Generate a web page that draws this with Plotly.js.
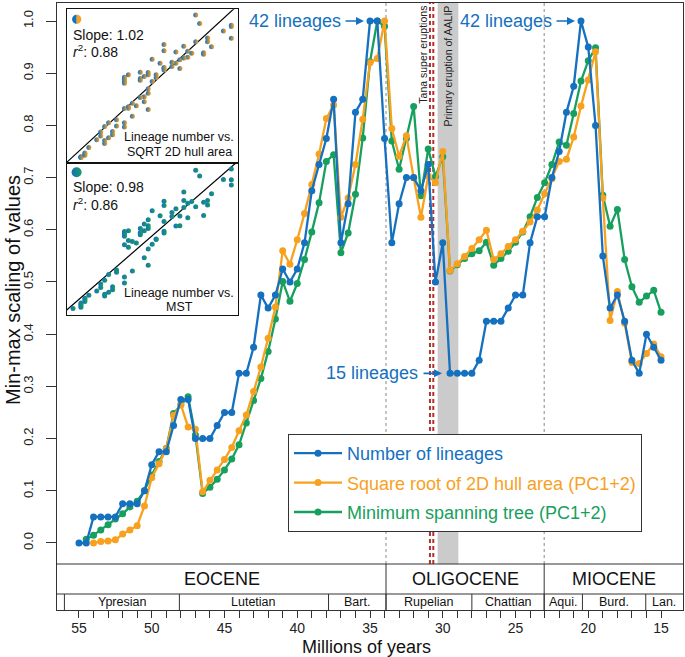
<!DOCTYPE html>
<html>
<head>
<meta charset="utf-8">
<script src="https://cdn.plot.ly/plotly-3.0.1.min.js"></script>
<style>html,body{margin:0;padding:0;background:#fff}#chart{width:685px;height:657px}</style>
</head>
<body>
<div id="chart"></div>
<script>
// ---------------- DATA ----------------
const ages = [55,54.5,54,53.5,53,52.5,52,51.5,51,50.5,50,49.5,49,48.5,48,47.5,47,46.5,46,45.5,45,44.5,44,43.5,43,42.5,42,41.5,41,40.5,40,39.5,39,38.5,38,37.5,37,36.5,36,35.5,35,34.5,34,33.5,33,32.5,32,31.5,31,30.5,30,29.5,29,28.5,28,27.5,27,26.5,26,25.5,25,24.5,24,23.5,23,22.5,22,21.5,21,20.5,20,19.5,19,18.5,18,17.5,17,16.5,16,15.5,15];

const lineages = [0,0,0.05,0.05,0.05,0.05,0.075,0.075,0.075,0.1,0.15,0.175,0.175,0.225,0.275,0.275,0.2,0.2,0.2,0.225,0.25,0.25,0.325,0.325,0.375,0.475,0.45,0.475,0.525,0.5,0.525,0.575,0.675,0.725,0.775,0.85,0.575,0.65,0.825,0.85,1,1,0.775,0.575,0.65,0.7,0.7,0.675,0.725,0.5,0.575,0.325,0.325,0.325,0.325,0.35,0.425,0.425,0.425,0.45,0.475,0.475,0.575,0.625,0.625,0.7,0.75,0.825,0.875,1,0.95,0.8,0.55,0.45,0.475,0.425,0.35,0.325,0.4,0.375,0.35];

const hullArea = [null,null,0,0.003,0.004,0.006,0.017,0.025,0.033,0.071,0.125,0.152,0.18,0.244,0.265,0.222,0.218,0.098,0.12,0.14,0.16,0.183,0.215,0.245,0.29,0.337,0.392,0.452,0.56,0.534,0.581,0.631,0.687,0.745,0.813,0.839,0.624,0.661,0.725,0.812,0.92,0.928,1,0.794,0.741,0.78,0.7,0.624,0.703,0.69,0.75,0.522,0.535,0.549,0.564,0.581,0.599,0.543,0.554,0.568,0.581,0.597,0.615,0.638,0.669,0.698,0.731,0.735,0.778,0.837,0.887,0.941,0.661,0.426,0.482,0.421,0.346,0.344,0.363,0.381,0.357];

const mst = [null,0.007,0.015,0.025,0.035,0.046,0.056,0.069,0.08,0.1,0.13,0.156,0.181,0.248,0.265,0.28,0.207,0.095,0.107,0.122,0.14,0.161,0.188,0.23,0.273,0.315,0.367,0.429,0.501,0.463,0.497,0.543,0.596,0.652,0.731,0.744,0.556,0.594,0.668,0.776,0.922,1,0.99,0.77,0.716,0.775,0.836,0.665,0.755,0.702,0.74,0.521,0.533,0.545,0.554,0.56,0.576,0.532,0.545,0.559,0.576,0.596,0.625,0.662,0.69,0.725,0.768,0.762,0.823,0.885,0.924,0.949,0.666,0.607,0.639,0.543,0.491,0.461,0.473,0.484,0.442];

const seriesNames = ['Number of lineages','Square root of 2D hull area (PC1+2)','Minimum spanning tree (PC1+2)'];

const xTickVals = [55,54,53,52,51,50,49,48,47,46,45,44,43,42,41,40,39,38,37,36,35,34,33,32,31,30,29,28,27,26,25,24,23,22,21,20,19,18,17,16,15];
const xTickLabels = ['55','','','','','50','','','','','45','','','','','40','','','','','35','','','','','30','','','','','25','','','','','20','','','','','15'];
const yTickVals = [0,0.1,0.2,0.3,0.4,0.5,0.6,0.7,0.8,0.9,1.0];
const yTickLabels = ['0.0','0.1','0.2','0.3','0.4','0.5','0.6','0.7','0.8','0.9','1.0'];

const epochNames = ['EOCENE','OLIGOCENE','MIOCENE'];
const epochBounds = [56.51,33.9,23.03,13.49];
const stageNames = ['Ypresian','Lutetian','Bart.','Rupelian','Chattian','Aqui.','Burd.','Lan.'];
const stageBounds = [56.0,48.1,37.85,33.9,28.0,23.03,20.4,16.05,13.49];

const insetSlopes = [1.02, 0.98];
const insetR2 = ['0.88', '0.86'];
const insetCaption = [['Lineage number vs.','SQRT 2D hull area'],['Lineage number vs.','MST']];

// ---------------- STYLE ----------------
const FONT = 'Liberation Sans, Arial, Helvetica, sans-serif';
const C_BLUE = '#1570bf', C_ORANGE = '#f8a11f', C_GREEN = '#17a05d';
const FRAME = '#333333';
const W = 685, H = 657, ML = 57, MR = 2, MT = 3, MB = 47;
const PW = W - ML - MR, PH = H - MT - MB;
const pxX = px => (px - ML) / PW;
const pxY = py => (H - MB - py) / PH;
const XR = [56.51, 13.49];
const YR = [-0.1284, 1.0345];
const IR = [-0.04, 1.04];

// ---------------- TRACES ----------------
function series(y, name, color, rank) {
  return {
    x: ages, y: y, type: 'scatter', mode: 'lines+markers',
    name: '<span style="color:' + color + '">' + name + '</span>',
    line: {color: color, width: 2.3}, marker: {color: color, size: 7},
    legendrank: rank, legendgroup: 'g' + rank, cliponaxis: false,
    xaxis: 'x', yaxis: 'y'
  };
}
const traces = [
  series(mst, seriesNames[2], C_GREEN, 3),
  series(hullArea, seriesNames[1], C_ORANGE, 2),
  series(lineages, seriesNames[0], C_BLUE, 1)
];

function pairs(a, b) {
  const xs = [], ys = [];
  a.forEach((v, i) => { if (v != null && b[i] != null) { xs.push(v); ys.push(b[i]); } });
  return {xs, ys};
}
const mean = arr => arr.reduce((s, v) => s + v, 0) / arr.length;
const insetPairs = [pairs(lineages, hullArea), pairs(lineages, mst)];
const insetColors = [C_ORANGE, C_GREEN];
insetPairs.forEach((p, k) => {
  const ax = k === 0 ? '2' : '3';
  const mx = mean(p.xs), my = mean(p.ys), b = insetSlopes[k];
  traces.push({
    x: IR, y: IR.map(x => my + b * (x - mx)), type: 'scatter', mode: 'lines',
    line: {color: '#000', width: 1.2}, showlegend: false, hoverinfo: 'skip',
    xaxis: 'x' + ax, yaxis: 'y' + ax
  });
  traces.push({
    x: p.xs, y: p.ys, type: 'scatter', mode: 'markers', showlegend: false,
    marker: {size: 5, color: C_BLUE, gradient: {type: 'horizontal', color: insetColors[k]}},
    xaxis: 'x' + ax, yaxis: 'y' + ax
  });
});
// gradient icon for second inset
traces.push({
  x: [IR[0] + 0.058 * (IR[1] - IR[0])], y: [IR[1] - 0.059 * (IR[1] - IR[0])],
  type: 'scatter', mode: 'markers', showlegend: false, hoverinfo: 'skip',
  marker: {size: 10, color: C_BLUE, gradient: {type: 'horizontal', color: C_GREEN}},
  xaxis: 'x3', yaxis: 'y3'
});

// ---------------- SHAPES ----------------
const yPlotBottom = pxY(564), yEpochBottom = pxY(594);
const shapes = [];
shapes.push({type: 'rect', xref: 'x', yref: 'paper', x0: 30.35, x1: 28.93, y0: yPlotBottom, y1: 1, fillcolor: '#cbcbcb', line: {width: 0}, layer: 'below'});
[30.88, 30.65].forEach(t => shapes.push({type: 'line', xref: 'x', yref: 'paper', x0: t, x1: t, y0: yPlotBottom, y1: 1, line: {color: '#b3322e', width: 2, dash: '4px,3px'}, layer: 'below'}));
[epochBounds[1], epochBounds[2]].forEach(t => shapes.push({type: 'line', xref: 'x', yref: 'paper', x0: t, x1: t, y0: yPlotBottom, y1: 1, line: {color: '#888', width: 1, dash: 'dot'}, layer: 'below'}));
shapes.push({type: 'line', xref: 'paper', yref: 'paper', x0: 0, x1: 1, y0: yPlotBottom, y1: yPlotBottom, line: {color: FRAME, width: 1}});
shapes.push({type: 'line', xref: 'paper', yref: 'paper', x0: 0, x1: 1, y0: yEpochBottom, y1: yEpochBottom, line: {color: FRAME, width: 1}});
[epochBounds[1], epochBounds[2]].forEach(t => shapes.push({type: 'line', xref: 'x', yref: 'paper', x0: t, x1: t, y0: 0, y1: yPlotBottom, line: {color: FRAME, width: 1}}));
stageBounds.slice(0, -1).forEach(t => shapes.push({type: 'line', xref: 'x', yref: 'paper', x0: t, x1: t, y0: 0, y1: yEpochBottom, line: {color: FRAME, width: 1}}));
// half blue / half orange icon in first inset
function halfCircle(cx, cy, rx, ry, s) {
  const k = 0.5523;
  return 'M' + cx + ',' + (cy + ry) + ' C' + (cx + s * k * rx) + ',' + (cy + ry) + ' ' + (cx + s * rx) + ',' + (cy + k * ry) + ' ' + (cx + s * rx) + ',' + cy +
    ' C' + (cx + s * rx) + ',' + (cy - k * ry) + ' ' + (cx + s * k * rx) + ',' + (cy - ry) + ' ' + cx + ',' + (cy - ry) + ' Z';
}
const icx = pxX(76.7), icy = pxY(19.3), irx = 4.6 / PW, iry = 4.6 / PH;
shapes.push({type: 'path', xref: 'paper', yref: 'paper', path: halfCircle(icx, icy, irx, iry, -1), fillcolor: C_BLUE, line: {width: 0}});
shapes.push({type: 'path', xref: 'paper', yref: 'paper', path: halfCircle(icx, icy, irx, iry, 1), fillcolor: C_ORANGE, line: {width: 0}});

// ---------------- ANNOTATIONS ----------------
const ann = [];
const txt = (o) => Object.assign({showarrow: false, xanchor: 'center', yanchor: 'middle', font: {family: FONT, size: 13, color: '#111'}}, o);
ann.push(txt({text: 'Min-max scaling of values', xref: 'paper', yref: 'paper', x: pxX(13), y: pxY(290), textangle: -90, font: {family: FONT, size: 20, color: '#111'}}));
ann.push(txt({text: 'Millions of years', xref: 'paper', yref: 'paper', x: pxX(366.5), y: pxY(647), font: {family: FONT, size: 18, color: '#111'}}));
epochNames.forEach((n, i) => ann.push(txt({text: n, xref: 'x', yref: 'paper', x: (epochBounds[i] + epochBounds[i + 1]) / 2, y: pxY(579), font: {family: FONT, size: 18, color: '#111'}})));
stageNames.forEach((n, i) => ann.push(txt({text: n, xref: 'x', yref: 'paper', x: (stageBounds[i] + stageBounds[i + 1]) / 2, y: pxY(602), font: {family: FONT, size: 12.5, color: '#111'}})));

const peak = Math.max(...lineages);
const low = lineages[ages.indexOf(29.5)];
const lab = (text, t, y) => txt({text: text, xref: 'x', yref: 'y', x: t, y: y, xanchor: 'right', font: {family: FONT, size: 18, color: C_BLUE}});
const arr = (t, y) => ({text: '', xref: 'x', yref: 'y', x: t, y: y, showarrow: true, ax: -20, ay: 0, arrowcolor: C_BLUE, arrowwidth: 1.6, arrowhead: 2, arrowsize: 1, standoff: 0});
ann.push(lab('42 lineages', 36.86, peak), arr(35.41, peak));
ann.push(lab('42 lineages', 22.35, peak), arr(20.91, peak));
ann.push(lab('15 lineages', 31.56, low), arr(30.05, low));
ann.push(txt({text: 'Tana super eruptions', xref: 'x', yref: 'paper', x: 31.38, y: pxY(4), yanchor: 'top', textangle: -90, font: {family: FONT, size: 10.5, color: '#222'}}));
ann.push(txt({text: 'Primary eruption of AALIP', xref: 'x', yref: 'paper', x: 29.64, y: pxY(4), yanchor: 'top', textangle: -90, font: {family: FONT, size: 10.5, color: '#222'}}));

const insetTextY = [[34.7, 50.5, 136.7, 151.7], [187.3, 203.8, 293.3, 306.7]];
insetTextY.forEach((ys, k) => {
  ann.push(txt({text: 'Slope: ' + insetSlopes[k].toFixed(2), xref: 'paper', yref: 'paper', x: pxX(71), y: pxY(ys[0]), xanchor: 'left', font: {family: FONT, size: 14, color: '#111'}}));
  ann.push(txt({text: '<i>r</i><sup>2</sup>: ' + insetR2[k], xref: 'paper', yref: 'paper', x: pxX(71), y: pxY(ys[1]), xanchor: 'left', font: {family: FONT, size: 14, color: '#111'}}));
  ann.push(txt({text: insetCaption[k][0], xref: 'paper', yref: 'paper', x: pxX(179), y: pxY(ys[2]), font: {family: FONT, size: 12.5, color: '#111'}}));
  ann.push(txt({text: insetCaption[k][1], xref: 'paper', yref: 'paper', x: pxX(179), y: pxY(ys[3]), font: {family: FONT, size: 12.5, color: '#111'}}));
});

// ---------------- LAYOUT ----------------
const insetAxis = (domain, anchor) => ({domain: domain, anchor: anchor, range: IR, showticklabels: false, ticks: '', showgrid: false, zeroline: false, showline: true, mirror: true, linecolor: '#111', linewidth: 1, fixedrange: true});
const layout = {
  width: W, height: H, margin: {l: ML, r: MR, t: MT, b: MB, pad: 0},
  paper_bgcolor: '#fff', plot_bgcolor: 'rgba(0,0,0,0)',
  font: {family: FONT, color: '#111'},
  showlegend: true,
  legend: {x: pxX(288), y: pxY(434), xanchor: 'left', yanchor: 'top', bgcolor: '#fff', bordercolor: FRAME, borderwidth: 1,
           font: {family: FONT, size: 18}, traceorder: 'grouped', tracegroupgap: 3, itemwidth: 48},
  xaxis: {range: XR, tickmode: 'array', tickvals: xTickVals, ticktext: xTickLabels, ticks: 'outside', ticklen: 7, tickwidth: 1, tickcolor: FRAME,
          showline: true, linecolor: FRAME, linewidth: 1, mirror: true, showgrid: false, zeroline: false,
          tickfont: {family: FONT, size: 14, color: '#222'}, ticklabelstandoff: -2, fixedrange: true},
  yaxis: {range: YR, tickmode: 'array', tickvals: yTickVals, ticktext: yTickLabels, tickangle: -90, ticks: 'outside', ticklen: 10, tickwidth: 1, tickcolor: FRAME,
          showline: true, linecolor: FRAME, linewidth: 1, mirror: true, showgrid: false, zeroline: false,
          tickfont: {family: FONT, size: 13, color: '#222'}, ticklabelstandoff: 8, fixedrange: true},
  xaxis2: insetAxis([pxX(66.7), pxX(237.7)], 'y2'),
  yaxis2: insetAxis([pxY(163.3), pxY(9.3)], 'x2'),
  xaxis3: insetAxis([pxX(66.7), pxX(237.7)], 'y3'),
  yaxis3: insetAxis([pxY(315), pxY(163.3)], 'x3'),
  shapes: shapes,
  annotations: ann
};
Plotly.newPlot('chart', traces, layout, {displayModeBar: false, staticPlot: true});
</script>
</body>
</html>
